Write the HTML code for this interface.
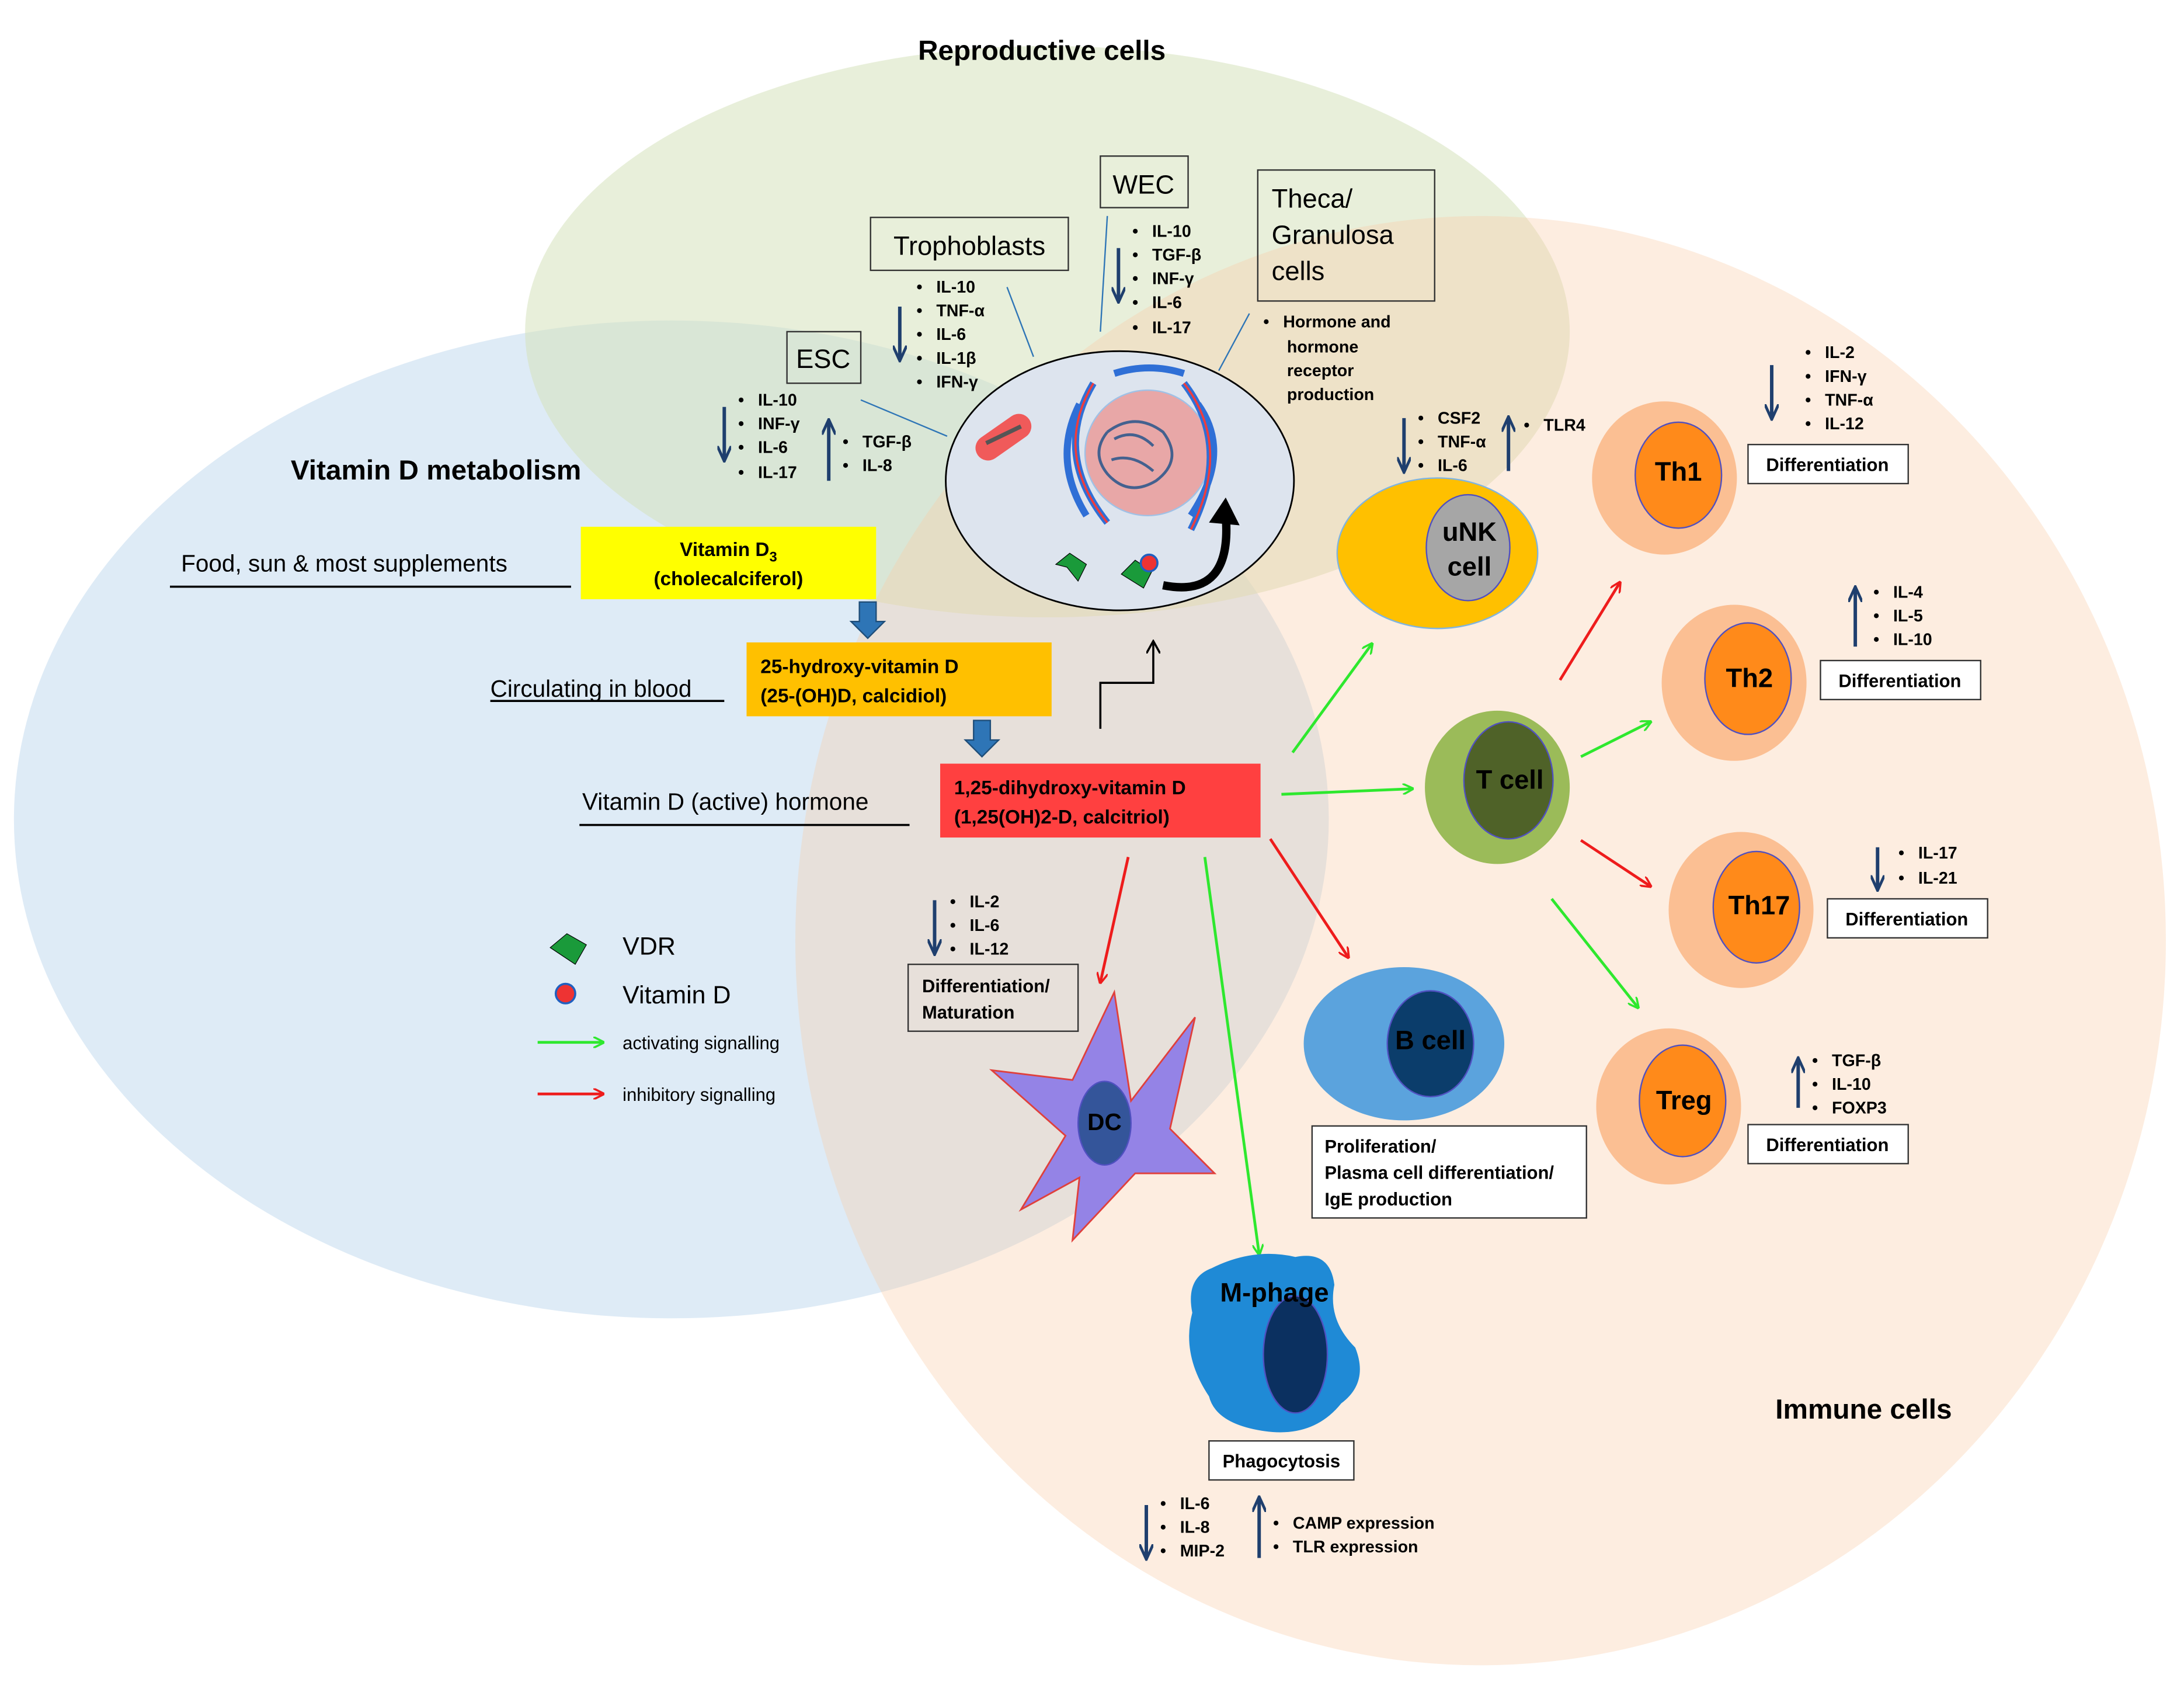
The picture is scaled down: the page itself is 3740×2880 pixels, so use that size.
<!DOCTYPE html>
<html><head><meta charset="utf-8"><style>html,body{margin:0;padding:0;background:#fff}svg{display:block}text{font-family:"Liberation Sans",sans-serif;white-space:pre}</style></head><body>
<svg width="3740" height="2880" viewBox="0 0 1568 1207" preserveAspectRatio="none" xmlns="http://www.w3.org/2000/svg">
<defs>
<marker id="g" markerWidth="8" markerHeight="8" refX="7" refY="4" orient="auto" markerUnits="userSpaceOnUse"><path d="M0,0 L8,4 L0,8" fill="none" stroke="#2ee82e" stroke-width="1.5"/></marker>
<marker id="r" markerWidth="8" markerHeight="8" refX="7" refY="4" orient="auto" markerUnits="userSpaceOnUse"><path d="M0,0 L8,4 L0,8" fill="none" stroke="#ee1c1c" stroke-width="1.5"/></marker>
<marker id="b" markerWidth="12" markerHeight="10" refX="10" refY="5" orient="auto" markerUnits="userSpaceOnUse"><path d="M0,0 L11,5 L0,10" fill="none" stroke="#1f3f6e" stroke-width="2"/></marker>
<marker id="k" markerWidth="10" markerHeight="10" refX="9" refY="5" orient="auto" markerUnits="userSpaceOnUse"><path d="M0,0 L9,5 L0,10" fill="none" stroke="#000" stroke-width="1.5"/></marker>
</defs>
<rect width="1568" height="1207" fill="#fff"/>
<ellipse cx="482" cy="588" rx="472" ry="358" fill="#bdd7ee" fill-opacity="0.5"/>
<ellipse cx="752" cy="238" rx="375" ry="205" fill="#d5e2bb" fill-opacity="0.55"/>
<ellipse cx="1063" cy="675" rx="492" ry="520" fill="#f8cba6" fill-opacity="0.35"/>

<text x="748" y="43" font-size="20" font-weight="bold" text-anchor="middle">Reproductive cells</text>
<text x="313" y="344" font-size="20" font-weight="bold" text-anchor="middle">Vitamin D metabolism</text>
<text x="1338" y="1018" font-size="20" font-weight="bold" text-anchor="middle">Immune cells</text>

<ellipse cx="804" cy="345" rx="125" ry="93" fill="#dde4ee" stroke="#000" stroke-width="1.2"/>
<ellipse cx="824" cy="325" rx="45" ry="45" fill="#e8a7a7" stroke="#9fc1e6"/>
<path d="M795,310 q20,-15 40,0 q15,20 -5,35 q-20,12 -35,-5 q-12,-15 0,-30 m5,5 q15,-8 28,5 m-30,10 q15,-5 30,8" fill="none" stroke="#44618f" stroke-width="2"/>
<path d="M785,275 q-30,50 10,100 M775,290 q-20,40 5,80 M860,290 q25,35 -5,80 M850,275 q35,45 5,105 M800,268 q25,-8 50,0" fill="none" stroke="#2f6fd6" stroke-width="5"/>
<path d="M785,275 q-30,50 10,100 M850,275 q35,45 5,105" fill="none" stroke="#f03c3c" stroke-width="1.5"/>
<rect x="698" y="305" width="45" height="18" rx="9" fill="#f05a5a" transform="rotate(-35 720 314)"/>
<path d="M708,318 l25,-12" stroke="#555" stroke-width="3"/>
<path d="M758,405 l10,-8 l12,8 l-6,12 l-8,-10 z" fill="#1a9a3a" stroke="#000" stroke-width="0.5"/>
<path d="M805,412 l10,-10 l12,8 l-6,12 z" fill="#1a9a3a" stroke="#000" stroke-width="0.5"/>
<circle cx="825" cy="404" r="6" fill="#e33" stroke="#2060c0" stroke-width="1.5"/>
<path d="M835,420 q50,10 45,-50" fill="none" stroke="#000" stroke-width="6"/>
<path d="M868,375 l12,-18 l10,20 z" fill="#000"/>

<rect x="565" y="238" width="53" height="37" fill="none" stroke="#333"/>
<text x="591" y="264" font-size="19" text-anchor="middle">ESC</text>
<line x1="618" y1="287" x2="680" y2="313" stroke="#2e75b6"/>
<rect x="625" y="156" width="142" height="38" fill="none" stroke="#333"/>
<text x="696" y="183" font-size="19" text-anchor="middle">Trophoblasts</text>
<line x1="723" y1="206" x2="742" y2="256" stroke="#2e75b6"/>
<rect x="790" y="112" width="63" height="37" fill="none" stroke="#333"/>
<text x="821" y="139" font-size="19" text-anchor="middle">WEC</text>
<line x1="795" y1="155" x2="790" y2="238" stroke="#2e75b6"/>
<rect x="903" y="122" width="127" height="94" fill="none" stroke="#333"/>
<text x="913" y="149" font-size="19">Theca/</text><text x="913" y="175" font-size="19">Granulosa</text><text x="913" y="201" font-size="19">cells</text>
<line x1="897" y1="225" x2="875" y2="266" stroke="#2e75b6"/>

<g font-size="12" font-weight="bold">
<text x="530" y="291">•   IL-10</text><text x="530" y="308">•   INF-γ</text><text x="530" y="325">•   IL-6</text><text x="530" y="343">•   IL-17</text>
<text x="605" y="321">•   TGF-β</text><text x="605" y="338">•   IL-8</text>
<text x="658" y="210">•   IL-10</text><text x="658" y="227">•   TNF-α</text><text x="658" y="244">•   IL-6</text><text x="658" y="261">•   IL-1β</text><text x="658" y="278">•   IFN-γ</text>
<text x="813" y="170">•   IL-10</text><text x="813" y="187">•   TGF-β</text><text x="813" y="204">•   INF-γ</text><text x="813" y="221">•   IL-6</text><text x="813" y="239">•   IL-17</text>
<text x="907" y="235">•   Hormone and</text><text x="924" y="253">hormone</text><text x="924" y="270">receptor</text><text x="924" y="287">production</text>
</g>
<g stroke="#1f3f6e" stroke-width="2.5" fill="none">
<line x1="520" y1="292" x2="520" y2="330" marker-end="url(#b)"/>
<line x1="595" y1="345" x2="595" y2="302" marker-end="url(#b)"/>
<line x1="646" y1="220" x2="646" y2="258" marker-end="url(#b)"/>
<line x1="803" y1="178" x2="803" y2="216" marker-end="url(#b)"/>
<line x1="1008" y1="300" x2="1008" y2="338" marker-end="url(#b)"/>
<line x1="1083" y1="338" x2="1083" y2="300" marker-end="url(#b)"/>
<line x1="1272" y1="262" x2="1272" y2="300" marker-end="url(#b)"/>
<line x1="1332" y1="464" x2="1332" y2="422" marker-end="url(#b)"/>
<line x1="1348" y1="608" x2="1348" y2="638" marker-end="url(#b)"/>
<line x1="1291" y1="795" x2="1291" y2="760" marker-end="url(#b)"/>
<line x1="671" y1="646" x2="671" y2="684" marker-end="url(#b)"/>
<line x1="823" y1="1080" x2="823" y2="1118" marker-end="url(#b)"/>
<line x1="904" y1="1118" x2="904" y2="1075" marker-end="url(#b)"/>
</g>

<text x="130" y="410" font-size="17">Food, sun &amp; most supplements</text>
<line x1="122" y1="421" x2="410" y2="421" stroke="#000" stroke-width="1.5"/>
<rect x="417" y="378" width="212" height="52" fill="#ffff00"/>
<text x="523" y="399" font-size="14" font-weight="bold" text-anchor="middle">Vitamin D<tspan font-size="10" dy="4">3</tspan></text>
<text x="523" y="420" font-size="14" font-weight="bold" text-anchor="middle">(cholecalciferol)</text>
<path d="M617,432 h12 v14 h6 l-12,12 l-12,-12 h6 z" fill="#2e75b6" stroke="#1f4e79"/>
<text x="352" y="500" font-size="17">Circulating in blood</text>
<line x1="352" y1="503" x2="520" y2="503" stroke="#000" stroke-width="1.5"/>
<rect x="536" y="461" width="219" height="53" fill="#ffc000"/>
<text x="546" y="483" font-size="14" font-weight="bold">25-hydroxy-vitamin D</text>
<text x="546" y="504" font-size="14" font-weight="bold">(25-(OH)D, calcidiol)</text>
<path d="M699,517 h12 v14 h6 l-12,12 l-12,-12 h6 z" fill="#2e75b6" stroke="#1f4e79"/>
<text x="418" y="581" font-size="17">Vitamin D (active) hormone</text>
<line x1="416" y1="592" x2="653" y2="592" stroke="#000" stroke-width="1.5"/>
<rect x="675" y="548" width="230" height="53" fill="#ff4040"/>
<text x="685" y="570" font-size="14" font-weight="bold">1,25-dihydroxy-vitamin D</text>
<text x="685" y="591" font-size="14" font-weight="bold">(1,25(OH)2-D, calcitriol)</text>
<path d="M790,523 v-33 h38 v-30" fill="none" stroke="#000" stroke-width="1.5" marker-end="url(#k)"/>

<path d="M395,680 l12,-10 l14,8 l-8,14 z" fill="#1a9a3a" stroke="#000" stroke-width="0.5"/>
<text x="447" y="685" font-size="18">VDR</text>
<circle cx="406" cy="713" r="7" fill="#e33" stroke="#2060c0" stroke-width="1.5"/>
<text x="447" y="720" font-size="18">Vitamin D</text>
<line x1="386" y1="748" x2="433" y2="748" stroke="#2ee82e" stroke-width="2" marker-end="url(#g)"/>
<text x="447" y="753" font-size="13">activating signalling</text>
<line x1="386" y1="785" x2="433" y2="785" stroke="#ee1c1c" stroke-width="2" marker-end="url(#r)"/>
<text x="447" y="790" font-size="13">inhibitory signalling</text>

<g stroke-width="2" fill="none">
<line x1="928" y1="540" x2="985" y2="462" stroke="#2ee82e" marker-end="url(#g)"/>
<line x1="920" y1="570" x2="1014" y2="566" stroke="#2ee82e" marker-end="url(#g)"/>
<line x1="865" y1="615" x2="904" y2="900" stroke="#2ee82e" marker-end="url(#g)"/>
<line x1="810" y1="615" x2="790" y2="705" stroke="#ee1c1c" marker-end="url(#r)"/>
<line x1="912" y1="602" x2="968" y2="687" stroke="#ee1c1c" marker-end="url(#r)"/>
<line x1="1120" y1="488" x2="1163" y2="418" stroke="#ee1c1c" marker-end="url(#r)"/>
<line x1="1135" y1="543" x2="1185" y2="518" stroke="#2ee82e" marker-end="url(#g)"/>
<line x1="1135" y1="603" x2="1185" y2="636" stroke="#ee1c1c" marker-end="url(#r)"/>
<line x1="1114" y1="645" x2="1176" y2="723" stroke="#2ee82e" marker-end="url(#g)"/>
</g>

<ellipse cx="1032" cy="397" rx="72" ry="54" fill="#ffc000" stroke="#7fb4e0"/>
<ellipse cx="1054" cy="393" rx="30" ry="38" fill="#a6a6a6" stroke="#5050c0"/>
<text x="1055" y="388" font-size="19" font-weight="bold" text-anchor="middle">uNK</text>
<text x="1055" y="413" font-size="19" font-weight="bold" text-anchor="middle">cell</text>
<g font-size="12" font-weight="bold">
<text x="1018" y="304">•   CSF2</text><text x="1018" y="321">•   TNF-α</text><text x="1018" y="338">•   IL-6</text>
<text x="1094" y="309">•   TLR4</text>
</g>

<ellipse cx="1075" cy="565" rx="52" ry="55" fill="#9bbb59"/>
<ellipse cx="1083" cy="560" rx="32" ry="42" fill="#4f6228" stroke="#5050c0"/>
<text x="1084" y="566" font-size="19" font-weight="bold" text-anchor="middle">T cell</text>

<g font-weight="bold">
<ellipse cx="1195" cy="343" rx="52" ry="55" fill="#fbbf93"/><ellipse cx="1205" cy="341" rx="31" ry="38" fill="#ff8a1a" stroke="#5050c0"/>
<text x="1205" y="345" font-size="19" text-anchor="middle">Th1</text>
<ellipse cx="1245" cy="490" rx="52" ry="56" fill="#fbbf93"/><ellipse cx="1255" cy="487" rx="31" ry="40" fill="#ff8a1a" stroke="#5050c0"/>
<text x="1256" y="493" font-size="19" text-anchor="middle">Th2</text>
<ellipse cx="1250" cy="653" rx="52" ry="56" fill="#fbbf93"/><ellipse cx="1261" cy="651" rx="31" ry="40" fill="#ff8a1a" stroke="#5050c0"/>
<text x="1263" y="656" font-size="19" text-anchor="middle">Th17</text>
<ellipse cx="1198" cy="794" rx="52" ry="56" fill="#fbbf93"/><ellipse cx="1208" cy="790" rx="31" ry="40" fill="#ff8a1a" stroke="#5050c0"/>
<text x="1209" y="796" font-size="19" text-anchor="middle">Treg</text>
</g>
<g font-size="12" font-weight="bold">
<text x="1296" y="257">•   IL-2</text><text x="1296" y="274">•   IFN-γ</text><text x="1296" y="291">•   TNF-α</text><text x="1296" y="308">•   IL-12</text>
<text x="1345" y="429">•   IL-4</text><text x="1345" y="446">•   IL-5</text><text x="1345" y="463">•   IL-10</text>
<text x="1363" y="616">•   IL-17</text><text x="1363" y="634">•   IL-21</text>
<text x="1301" y="765">•   TGF-β</text><text x="1301" y="782">•   IL-10</text><text x="1301" y="799">•   FOXP3</text>
</g>
<g font-size="13" font-weight="bold" fill="#000">
<rect x="1255" y="319" width="115" height="28" fill="#fff" stroke="#333"/><text x="1312" y="338" text-anchor="middle">Differentiation</text>
<rect x="1307" y="474" width="115" height="28" fill="#fff" stroke="#333"/><text x="1364" y="493" text-anchor="middle">Differentiation</text>
<rect x="1312" y="645" width="115" height="28" fill="#fff" stroke="#333"/><text x="1369" y="664" text-anchor="middle">Differentiation</text>
<rect x="1255" y="807" width="115" height="28" fill="#fff" stroke="#333"/><text x="1312" y="826" text-anchor="middle">Differentiation</text>
</g>

<ellipse cx="1008" cy="749" rx="72" ry="55" fill="#5ba3dd"/>
<ellipse cx="1027" cy="749" rx="31" ry="38" fill="#0b3d6b" stroke="#5050c0"/>
<text x="1027" y="753" font-size="19" font-weight="bold" text-anchor="middle">B cell</text>
<rect x="942" y="808" width="197" height="66" fill="#fff" stroke="#333"/>
<g font-size="13" font-weight="bold"><text x="951" y="827">Proliferation/</text><text x="951" y="846">Plasma cell differentiation/</text><text x="951" y="865">IgE production</text></g>

<path d="M800,712 L812,790 L858,730 L840,810 L872,842 L815,842 L770,890 L775,845 L733,868 L765,815 L712,768 L770,775 Z" fill="#9483e6" stroke="#e0403c" stroke-width="1.2"/>
<ellipse cx="793" cy="806" rx="19" ry="30" fill="#34559a" stroke="#5050c0"/>
<text x="793" y="811" font-size="17" font-weight="bold" text-anchor="middle">DC</text>
<rect x="652" y="692" width="122" height="48" fill="#fff" fill-opacity="0" stroke="#333"/>
<g font-size="13" font-weight="bold"><text x="662" y="712">Differentiation/</text><text x="662" y="731">Maturation</text></g>
<g font-size="12" font-weight="bold"><text x="682" y="651">•   IL-2</text><text x="682" y="668">•   IL-6</text><text x="682" y="685">•   IL-12</text></g>

<path d="M870,910 q30,-15 60,-8 q25,-5 28,20 q-5,25 15,45 q10,25 -10,40 q-20,25 -55,20 q-35,-5 -40,-25 q-20,-30 -12,-60 q-5,-25 14,-32 z" fill="#1f8ad6"/>
<ellipse cx="930" cy="972" rx="23" ry="42" fill="#0b3060" stroke="#5050c0"/>
<text x="915" y="934" font-size="19" font-weight="bold" text-anchor="middle">M-phage</text>
<rect x="868" y="1034" width="104" height="28" fill="#fff" stroke="#333"/>
<text x="920" y="1053" font-size="13" font-weight="bold" text-anchor="middle">Phagocytosis</text>
<g font-size="12" font-weight="bold">
<text x="833" y="1083">•   IL-6</text><text x="833" y="1100">•   IL-8</text><text x="833" y="1117">•   MIP-2</text>
<text x="914" y="1097">•   CAMP expression</text><text x="914" y="1114">•   TLR expression</text>
</g>
</svg>
</body></html>
